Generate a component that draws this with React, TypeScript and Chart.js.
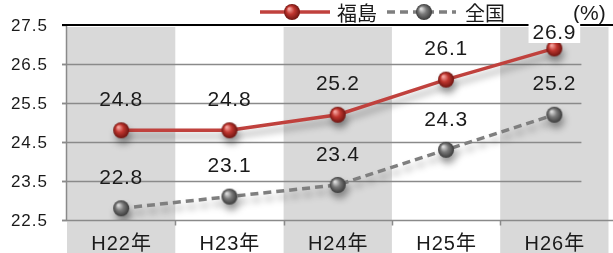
import React, { useEffect, useRef } from "react";
import { Chart, registerables } from "chart.js";

Chart.register(...registerables);

const categories = ["H22年", "H23年", "H24年", "H25年", "H26年"];
const seriesNames = ["福島", "全国"];
const fukushima = [24.8, 24.8, 25.2, 26.1, 26.9];
const national = [22.8, 23.1, 23.4, 24.3, 25.2];
const yTicks = [27.5, 26.5, 25.5, 24.5, 23.5, 22.5];
const unitLabel = "(%)";

const RED = "#c0413d";
const GRAY = "#7f7f7f";
const BAND = "#d9d9d9";
const GRID = "#8a8a8a";
const TEXT = "#1a1a1a";
const FONT = '"Liberation Sans", "Noto Sans CJK JP", sans-serif';
const JFONT = '"Noto Sans CJK JP", "Liberation Sans", sans-serif';

let legendBalls: HTMLCanvasElement[] = [];

function makeBall(light: string, mid: string, dark: string, r: number) {
  const size = r * 2 + 2;
  const c = document.createElement("canvas");
  c.width = size;
  c.height = size;
  const g = c.getContext("2d")!;
  const cx = size / 2;
  const grad = g.createRadialGradient(cx - r * 0.35, cx - r * 0.4, r * 0.1, cx, cx, r);
  grad.addColorStop(0, light);
  grad.addColorStop(0.45, mid);
  grad.addColorStop(1, dark);
  g.fillStyle = grad;
  g.beginPath();
  g.arc(cx, cx, r, 0, Math.PI * 2);
  g.fill();
  return c;
}

function spaced(ctx: any, px: string) {
  try {
    ctx.letterSpacing = px;
  } catch (e) {}
}

const decorPlugin = {
  id: "decor",
  beforeDraw(chart: any) {
    const ctx = chart.ctx;
    const area = chart.chartArea;
    const ys = chart.scales.y;
    const n = categories.length;
    const w = (area.right - area.left) / n;
    ctx.save();
    ctx.fillStyle = "#ffffff";
    ctx.fillRect(0, 0, chart.width, chart.height);
    // bands
    ctx.fillStyle = BAND;
    for (let i = 0; i < n; i += 2) {
      ctx.fillRect(area.left + i * w, area.top + 2, w, chart.height - area.top);
    }
    // grid lines
    ctx.strokeStyle = GRID;
    ctx.lineWidth = 1.5;
    const gridRight = area.left + w * 4.75;
    yTicks.forEach((v, idx) => {
      const py = Math.round(ys.getPixelForValue(v)) + 0.5;
      if (idx === 0 || idx === yTicks.length - 1) return;
      ctx.beginPath();
      ctx.moveTo(area.left - 5, py);
      ctx.lineTo(gridRight, py);
      ctx.stroke();
    });
    // left axis
    const topY = ys.getPixelForValue(yTicks[0]);
    const botY = ys.getPixelForValue(yTicks[yTicks.length - 1]);
    ctx.beginPath();
    ctx.moveTo(area.left - 0.5, topY);
    ctx.lineTo(area.left - 0.5, botY);
    ctx.stroke();
    yTicks.forEach((v) => {
      const py = Math.round(ys.getPixelForValue(v)) + 0.5;
      ctx.beginPath();
      ctx.moveTo(area.left - 5, py);
      ctx.lineTo(area.left, py);
      ctx.stroke();
    });
    // bottom axis
    const by = Math.round(botY) + 0.5;
    ctx.beginPath();
    ctx.moveTo(area.left - 5, by);
    ctx.lineTo(chart.width, by);
    ctx.stroke();
    for (let i = 1; i < n; i++) {
      const bx = Math.round(area.left + i * w) + 0.5;
      ctx.beginPath();
      ctx.moveTo(bx, by);
      ctx.lineTo(bx, by + 5);
      ctx.stroke();
    }
    // top line
    ctx.strokeStyle = "#000000";
    ctx.lineWidth = 2;
    ctx.beginPath();
    ctx.moveTo(area.left - 5, Math.round(topY));
    ctx.lineTo(chart.width, Math.round(topY));
    ctx.stroke();
    // y tick labels
    ctx.fillStyle = TEXT;
    ctx.font = `17px ${FONT}`;
    spaced(ctx, "1px");
    ctx.textAlign = "right";
    ctx.textBaseline = "middle";
    yTicks.forEach((v) => {
      ctx.fillText(v.toFixed(1), area.left - 19, ys.getPixelForValue(v) + 1);
    });
    // x labels
    ctx.textAlign = "center";
    ctx.font = `20px ${FONT}`;
    const xs = chart.scales.x;
    categories.forEach((c, i) => {
      ctx.fillText(c, xs.getPixelForValue(i) + 0.5, botY + 24);
    });
    spaced(ctx, "0px");
    // legend
    const ly = 12;
    ctx.lineWidth = 3.5;
    ctx.strokeStyle = RED;
    ctx.beginPath();
    ctx.moveTo(260, ly);
    ctx.lineTo(330, ly);
    ctx.stroke();
    ctx.strokeStyle = GRAY;
    ctx.setLineDash([8, 5]);
    ctx.beginPath();
    ctx.moveTo(387, ly);
    ctx.lineTo(456, ly);
    ctx.stroke();
    ctx.setLineDash([]);
    if (legendBalls.length === 2) {
      ctx.drawImage(legendBalls[0], 292 - legendBalls[0].width / 2, ly - legendBalls[0].height / 2);
      ctx.drawImage(legendBalls[1], 424 - legendBalls[1].width / 2, ly - legendBalls[1].height / 2);
    }
    ctx.fillStyle = TEXT;
    ctx.font = `20px ${JFONT}`;
    ctx.textAlign = "left";
    ctx.fillText(seriesNames[0], 337, ly + 1);
    ctx.fillText(seriesNames[1], 465, ly + 1);
    ctx.font = `21px ${FONT}`;
    ctx.fillText(unitLabel, 573, ly + 2);
    ctx.restore();
  },
  beforeDatasetsDraw(chart: any) {
    const ctx = chart.ctx;
    ctx.save();
    ctx.shadowColor = "rgba(0,0,0,0.35)";
    ctx.shadowBlur = 7;
    ctx.shadowOffsetX = 2;
    ctx.shadowOffsetY = 6;
  },
  afterDatasetsDraw(chart: any) {
    const ctx = chart.ctx;
    ctx.restore();
    const area = chart.chartArea;
    ctx.save();
    ctx.font = `21px ${FONT}`;
    spaced(ctx, "0.7px");
    ctx.textAlign = "center";
    ctx.textBaseline = "middle";
    chart.data.datasets.forEach((ds: any, di: number) => {
      const meta = chart.getDatasetMeta(di);
      meta.data.forEach((pt: any, i: number) => {
        const txt = ds.data[i].toFixed(1);
        let ty = pt.y - 30;
        if (ty < area.top + 8) ty = area.top + 8;
        const tw = ctx.measureText(txt).width;
        if (ty - 10 < area.top + 2) {
          ctx.fillStyle = "#ffffff";
          ctx.fillRect(pt.x - tw / 2 - 4, ty - 10, tw + 8, 20);
        }
        ctx.fillStyle = TEXT;
        ctx.fillText(txt, pt.x, ty);
      });
    });
    ctx.restore();
  },
};

export default function App() {
  const ref = useRef<HTMLCanvasElement>(null);
  useEffect(() => {
    const canvas = ref.current!;
    const redBall = makeBall("#f3a19c", "#c0362f", "#6e1410", 8);
    const grayBall = makeBall("#d8d8d8", "#7a7a7a", "#3a3a3a", 8);
    legendBalls = [redBall, grayBall];
    const chart: any = new Chart(canvas, {
      type: "line",
      data: {
        labels: categories,
        datasets: [
          {
            label: seriesNames[0],
            data: fukushima,
            borderColor: RED,
            borderWidth: 3.5,
            pointStyle: redBall as any,
            pointRadius: 8,
            tension: 0,
          },
          {
            label: seriesNames[1],
            data: national,
            borderColor: GRAY,
            borderWidth: 3.5,
            borderDash: [8, 5],
            pointStyle: grayBall as any,
            pointRadius: 8,
            tension: 0,
          },
        ],
      },
      options: {
        responsive: false,
        animation: false,
        devicePixelRatio: 1,
        layout: { padding: { left: 67, right: 3, top: 25, bottom: 33 } },
        plugins: { legend: { display: false }, tooltip: { enabled: false } },
        scales: {
          x: { type: "category", offset: true, display: false },
          y: { min: 22.5, max: 27.5, display: false },
        },
      },
      plugins: [decorPlugin],
    } as any);
    return () => chart.destroy();
  }, []);
  return (
    <div
      style={{
        position: "fixed",
        left: 0,
        top: 0,
        width: 613,
        height: 253,
        overflow: "hidden",
        background: "#fff",
      }}
    >
      <canvas ref={ref} width={620} height={253} style={{ width: 620, height: 253, display: "block" }} />
    </div>
  );
}
